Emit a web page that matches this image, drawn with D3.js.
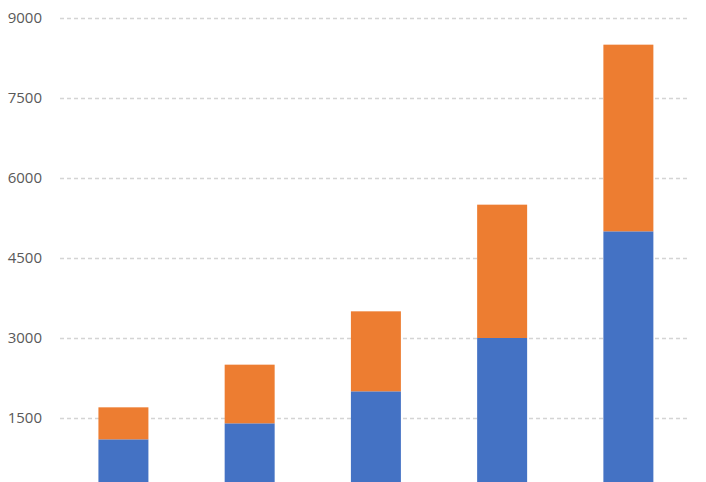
<!DOCTYPE html>
<html>
<head>
<meta charset="utf-8">
<script src="https://cdn.jsdelivr.net/npm/d3@7"></script>
<style>
  html, body { margin: 0; padding: 0; background: #fff; }
  svg { display: block; }
</style>
</head>
<body>
<svg id="chart" width="706" height="482"></svg>
<script>
const categories = ["A", "B", "C", "D", "E"];
const seriesBlue = [1100, 1400, 2000, 3000, 5000];
const seriesOrange = [600, 1100, 1500, 2500, 3500];
const tickValues = [1500, 3000, 4500, 6000, 7500, 9000];

const svg = d3.select("#chart");
const plotLeft = 60, plotRight = 690, plotTop = 18, zeroY = 498;

const x = d3.scaleBand().domain(categories).range([plotLeft + 0.3, plotRight + 1.5])
  .paddingInner(0.604).paddingOuter(0.302);
const y = d3.scaleLinear().domain([0, 9000]).range([zeroY, plotTop]);

// gridlines
svg.append("g").selectAll("line").data(tickValues).join("line")
  .attr("x1", plotLeft).attr("x2", plotRight)
  .attr("y1", d => y(d) + 0.5).attr("y2", d => y(d) + 0.5)
  .attr("stroke", "#d4d4d4").attr("stroke-width", 1.5)
  .attr("stroke-dasharray", "4,3");

// tick labels
svg.append("g").selectAll("text").data(tickValues).join("text")
  .attr("x", 42).attr("y", d => y(d))
  .attr("dy", "0.35em")
  .attr("text-anchor", "end")
  .attr("font-family", "'Open Sans', 'Noto Sans', sans-serif")
  .attr("font-size", 15)
  .attr("fill", "#595959")
  .text(d => d);

const data = categories.map((c, i) => ({ c, b: seriesBlue[i], o: seriesOrange[i] }));

svg.append("g").selectAll("rect").data(data).join("rect")
  .attr("x", d => x(d.c)).attr("width", x.bandwidth())
  .attr("y", d => y(d.b)).attr("height", d => y(0) - y(d.b))
  .attr("fill", "#4472c4");

svg.append("g").selectAll("rect").data(data).join("rect")
  .attr("x", d => x(d.c)).attr("width", x.bandwidth())
  .attr("y", d => y(d.b + d.o)).attr("height", d => y(d.b) - y(d.b + d.o))
  .attr("fill", "#ed7d31");
</script>
</body>
</html>
